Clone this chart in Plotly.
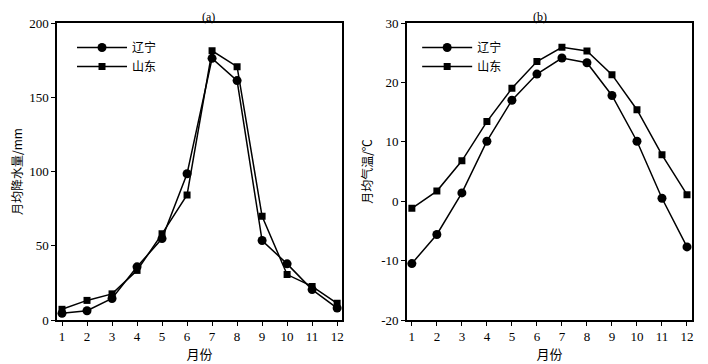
import plotly.graph_objects as go

months = list(range(1, 13))
month_labels = [str(m) for m in months]

precip_liaoning = [4.5, 6.2, 14.5, 35.8, 54.8, 98.5, 176.2, 161.2, 53.5, 37.8, 20.5, 8.0]
precip_shandong = [7.2, 13.2, 17.6, 33.4, 58.0, 84.2, 181.3, 170.6, 69.8, 30.6, 22.6, 11.2]
precip_ticks = [0, 50, 100, 150, 200]

temp_liaoning = [-10.5, -5.6, 1.4, 10.1, 17.0, 21.4, 24.1, 23.3, 17.8, 10.1, 0.5, -7.7]
temp_shandong = [-1.2, 1.7, 6.8, 13.4, 19.0, 23.5, 25.9, 25.3, 21.3, 15.4, 7.8, 1.1]
temp_ticks = [-20, -10, 0, 10, 20, 30]
temp_tick_labels = ["-20", "-10", "0", "10", "20", "30"]

OFF = 8  # default page body margin
W, H = 708 - OFF, 364 - OFF
LEFT, RIGHT, TOP, BOTTOM = 57 - OFF, 691.7 - OFF, 23 - OFF, 320 - OFF
ML, MR, MT, MB = LEFT, W - RIGHT, TOP, H - BOTTOM
PW, PH = W - ML - MR, H - MT - MB
serif = "Liberation Serif, Times New Roman, serif"
cjk = "Noto Sans CJK SC, Liberation Serif, serif"

def fx(px):
    return (px - OFF - ML) / PW

fig = go.Figure()

def add(x, y, name, symbol, size, xa, ya, leg):
    fig.add_trace(go.Scatter(
        x=x, y=y, name=name, mode="lines+markers",
        line=dict(color="black", width=1.5),
        marker=dict(symbol=symbol, size=size, color="black"),
        xaxis=xa, yaxis=ya, legend=leg))

add(months, precip_liaoning, "辽宁", "circle", 9, "x", "y", "legend")
add(months, precip_shandong, "山东", "square", 7, "x", "y", "legend")
add(months, temp_liaoning, "辽宁", "circle", 9, "x2", "y2", "legend2")
add(months, temp_shandong, "山东", "square", 7, "x2", "y2", "legend2")

axis_common = dict(showline=True, linecolor="black", linewidth=1.5, mirror=True,
                   ticks="outside", ticklen=4, tickwidth=1.2, tickcolor="black",
                   showgrid=False, zeroline=False, automargin=False,
                   tickfont=dict(family=serif, size=13, color="black"))

fig.update_layout(
    width=W, height=H, margin=dict(l=ML, r=MR, t=MT, b=MB, autoexpand=False),
    paper_bgcolor="white", plot_bgcolor="white", showlegend=True,
    xaxis=dict(domain=[0, fx(342)], range=[0.8, 12.2], tickvals=months, ticktext=month_labels,
               title=dict(text="月份", font=dict(family=cjk, size=13, color="black"), standoff=0),
               anchor="y", **axis_common),
    yaxis=dict(domain=[0, 1], range=[0, 200], tickvals=precip_ticks,
               title=dict(text="月均降水量/mm", font=dict(family=cjk, size=12, color="black"), standoff=6),
               anchor="x", **axis_common),
    xaxis2=dict(domain=[fx(406.7), 1], range=[0.8, 12.2], tickvals=months, ticktext=month_labels,
                title=dict(text="月份", font=dict(family=cjk, size=13, color="black"), standoff=0),
                anchor="y2", **axis_common),
    yaxis2=dict(domain=[0, 1], range=[-20, 30], tickvals=temp_ticks, ticktext=temp_tick_labels,
                title=dict(text="月均气温/℃", font=dict(family=cjk, size=12, color="black"), standoff=6),
                anchor="x2", **axis_common),
    legend=dict(x=fx(72), y=1 - 10 / PH, xanchor="left", yanchor="top",
                bgcolor="rgba(0,0,0,0)", font=dict(family=cjk, size=12, color="black"),
                tracegroupgap=4, itemwidth=50),
    legend2=dict(x=fx(417), y=1 - 10 / PH, xanchor="left", yanchor="top",
                 bgcolor="rgba(0,0,0,0)", font=dict(family=cjk, size=12, color="black"),
                 tracegroupgap=4, itemwidth=50),
    annotations=[
        dict(text="(a)", x=fx((57 + 342) / 2), y=1 + 15 / PH, xref="paper", yref="paper",
             showarrow=False, font=dict(family=serif, size=12, color="black")),
        dict(text="(b)", x=fx((406.7 + 691.7) / 2), y=1 + 15 / PH, xref="paper", yref="paper",
             showarrow=False, font=dict(family=serif, size=12, color="black")),
    ],
)

fig.write_html("out.html")
